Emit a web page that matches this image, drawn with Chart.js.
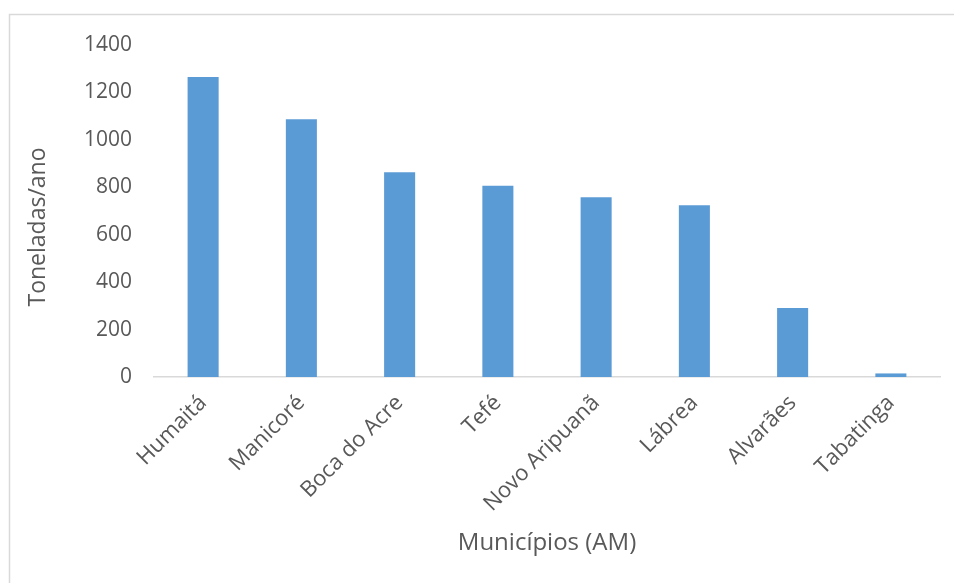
<!DOCTYPE html>
<html>
<head>
<meta charset="utf-8">
<script src="https://cdn.jsdelivr.net/npm/chart.js@4"></script>
<style>
  html, body { margin: 0; padding: 0; background: #fff; }
  #wrap { width: 954px; height: 583px; }
</style>
</head>
<body>
<div id="wrap"><canvas id="chart" width="954" height="583"></canvas></div>
<script>
'use strict';

const municipios = ['Humaitá', 'Manicoré', 'Boca do Acre', 'Tefé', 'Novo Aripuanã', 'Lábrea', 'Alvarães', 'Tabatinga'];
const toneladas = [1265, 1087, 863, 806, 758, 724, 291, 15];
const yTicks = [0, 200, 400, 600, 800, 1000, 1200, 1400];
const xTitle = 'Municípios (AM)';
const yTitle = 'Toneladas/ano';

const FONT = '"Open Sans", "Liberation Sans", sans-serif';
const TEXT = '#595959';
const LINE = '#d9d9d9';

// frame + axis titles drawn by hand so they can sit where Excel put them
const framePlugin = {
  id: 'frame',
  beforeDraw(chart) {
    const ctx = chart.ctx;
    ctx.save();
    ctx.fillStyle = '#fff';
    ctx.fillRect(0, 0, chart.width, chart.height);
    ctx.strokeStyle = LINE;
    ctx.lineWidth = 1.5;
    ctx.strokeRect(9.5, 14.5, 2000, 2000);
    ctx.restore();
  },
  afterDraw(chart) {
    const ctx = chart.ctx;
    const area = chart.chartArea;
    ctx.save();
    ctx.fillStyle = TEXT;
    ctx.textAlign = 'center';
    ctx.textBaseline = 'middle';
    ctx.font = '24px ' + FONT;
    ctx.fillText(xTitle, (area.left + area.right) / 2, 543);
    ctx.font = '23px ' + FONT;
    ctx.translate(38, 227);
    ctx.rotate(-Math.PI / 2);
    ctx.fillText(yTitle, 0, 0);
    ctx.restore();
  }
};

new Chart(document.getElementById('chart'), {
  type: 'bar',
  data: {
    labels: municipios,
    datasets: [{
      data: toneladas,
      backgroundColor: '#5b9bd5',
      borderWidth: 0,
      categoryPercentage: 1,
      barPercentage: 0.316
    }]
  },
  options: {
    responsive: false,
    animation: false,
    layout: { padding: { top: 45, right: 14, bottom: 0, left: 0 } },
    plugins: {
      legend: { display: false },
      tooltip: { enabled: false }
    },
    scales: {
      x: {
        grid: { display: false, drawTicks: false },
        border: { display: true, color: LINE, width: 1.5 },
        ticks: {
          color: TEXT,
          font: { family: FONT, size: 22 },
          minRotation: 45,
          maxRotation: 45,
          autoSkip: false,
          padding: 13
        },
        afterFit(scale) { scale.height = 206; }
      },
      y: {
        min: 0,
        max: 1400,
        grid: { display: false, drawTicks: false },
        border: { display: false },
        afterBuildTicks(scale) { scale.ticks = yTicks.map(v => ({ value: v })); },
        ticks: {
          color: TEXT,
          font: { family: FONT, size: 21 },
          padding: 22,
          callback: v => String(v)
        },
        afterFit(scale) { scale.width = 154; }
      }
    }
  },
  plugins: [framePlugin]
});
</script>
</body>
</html>
